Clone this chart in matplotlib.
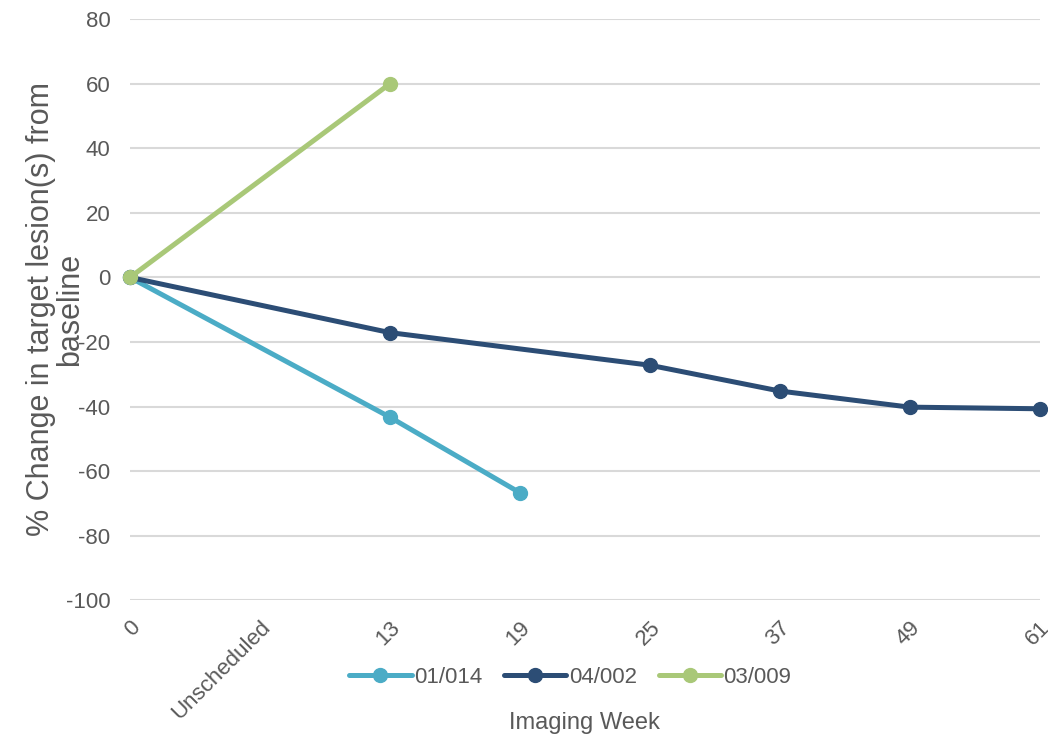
import matplotlib.pyplot as plt

weeks = ['0', 'Unscheduled', '13', '19', '25', '37', '49', '61']

# % change per imaging week, None where no scan was taken
pt_01_014 = [0, None, -43.3, -66.7, None, None, None, None]
pt_04_002 = [0, None, -17.1, None, -27.2, -35.2, -40.2, -40.7]
pt_03_009 = [0, None, 60, None, None, None, None, None]

series = [('01/014', pt_01_014, '#4BACC6'),
          ('04/002', pt_04_002, '#2C4D75'),
          ('03/009', pt_03_009, '#A9C878')]

grey = '#595959'
plt.rcParams['font.family'] = ['Liberation Sans', 'DejaVu Sans']
plt.rcParams['axes.unicode_minus'] = False

fig = plt.figure(figsize=(10.48, 7.4), dpi=100)
ax = fig.add_axes([0.124, 0.189, 0.868, 0.785])

for name, vals, col in series:
    xs = [i for i, v in enumerate(vals) if v is not None]
    ys = [v for v in vals if v is not None]
    ax.plot(xs, ys, color=col, lw=3.6, marker='o', ms=10, label=name,
            solid_capstyle='round', zorder=3, clip_on=False)

ax.set_xlim(0, len(weeks) - 1)
ax.set_ylim(-100, 80)
ax.set_yticks(range(-100, 81, 20))
ax.set_xticks(range(len(weeks)))
ax.set_xticklabels(weeks, rotation=45, ha='right', va='top',
                   rotation_mode='anchor')
ax.tick_params(axis='y', length=0, labelsize=16, colors=grey, pad=14)
ax.tick_params(axis='x', length=0, labelsize=16, colors=grey, pad=12)

ax.grid(axis='y', color='#D9D9D9', lw=1.5)
ax.set_axisbelow(True)
for s in ax.spines.values():
    s.set_visible(False)

# two-line y title sits over the tick labels, as in the source workbook
fig.text(0.053, 0.582, '% Change in target lesion(s) from\nbaseline',
         rotation=90, ha='center', va='center', fontsize=22, color=grey,
         linespacing=1.0)
fig.text(0.558, 0.023, 'Imaging Week', ha='center', va='center',
         fontsize=17, color=grey)

ax.legend(loc='center', bbox_to_anchor=(0.484, -0.133), ncol=3,
          frameon=False, fontsize=16, labelcolor=grey, handlelength=2.8,
          handletextpad=0.1, columnspacing=1.0)

fig.savefig('out.png', dpi=100)
